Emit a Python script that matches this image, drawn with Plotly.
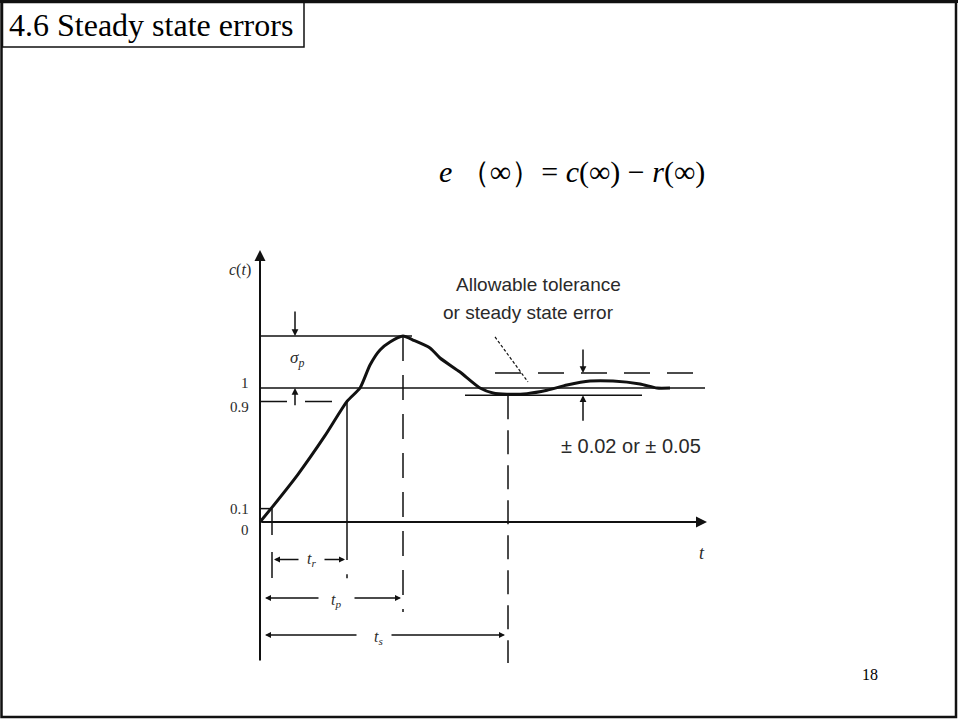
import plotly.graph_objects as go

# Step response c(t) of an underdamped second-order system (schematic)
curve_t = [0.00, 0.11, 0.38, 0.65, 0.87, 1.00, 1.10, 1.20, 1.30, 1.43, 1.53, 1.70,
           1.80, 2.00, 2.20, 2.33, 2.47, 2.67, 2.87, 3.07, 3.30, 3.53, 3.80, 3.97, 4.10]
curve_c = [0.000, 0.100, 0.356, 0.644, 0.900, 1.000, 1.172, 1.284, 1.343, 1.388, 1.358, 1.299,
           1.224, 1.119, 1.000, 0.963, 0.954, 0.958, 0.983, 1.022, 1.052, 1.052, 1.030, 1.000, 1.000]

# Reference levels
c_peak = 1.388
c_final = 1.0
c_90 = 0.9
c_10 = 0.1
band_hi = 1.112
band_lo = 0.946

# Characteristic times
t_10 = 0.12
t_90 = 0.87
t_p = 1.43
t_s = 2.48

tick_text = ["0", "0.1", "0.9", "1"]

W, H = 958, 720
SERIF = "Liberation Serif, Times New Roman, serif"
SANS = "Liberation Sans, Arial, sans-serif"
INK = "#111111"
TXT = "#2a2a2a"

fig = go.Figure()

fig.add_trace(go.Scatter(x=curve_t, y=curve_c, mode="lines",
                         line=dict(color=INK, width=3, shape="spline", smoothing=0.6),
                         hoverinfo="skip", showlegend=False))


def seg(x0, y0, x1, y1, width=1.5, dash="solid"):
    fig.add_shape(type="line", xref="x", yref="y", x0=x0, y0=y0, x1=x1, y1=y1,
                  line=dict(color=INK, width=width, dash=dash))


def arrow(hx, hy, tx, ty, width=1.5, head=2, size=1.0):
    fig.add_annotation(x=hx, y=hy, ax=tx, ay=ty, xref="x", yref="y", axref="x", ayref="y",
                       showarrow=True, arrowhead=head, arrowsize=size, arrowwidth=width,
                       arrowcolor=INK, standoff=0, startstandoff=0, text="")


def label(x, y, text, size=16, font=SERIF, color=TXT, xanchor="center"):
    fig.add_annotation(x=x, y=y, xref="x", yref="y",
                       text=text, showarrow=False, xanchor=xanchor, yanchor="middle",
                       font=dict(family=font, size=size, color=color))


# Axes with arrowheads
arrow(0, 2.03, 0, -1.045, width=2, head=2, size=1.1)
arrow(4.47, 0, 0, 0, width=2, head=2, size=1.1)

# Horizontal reference lines
seg(0, c_peak, 1.52, c_peak)
seg(0, c_final, 4.45, c_final)
seg(0, c_90, 0.72, c_90, dash="27px,18px")
seg(0, c_10, t_10, c_10)
seg(2.35, band_hi, 4.37, band_hi, dash="26px,17px")
seg(2.05, band_lo, 3.82, band_lo)

# Vertical markers
seg(t_10, c_10, t_10, -0.097)
seg(t_10, -0.224, t_10, -0.418)
seg(t_90, c_90, t_90, -0.284)
seg(t_90, -0.39, t_90, -0.42)
seg(t_p, c_peak, t_p, -0.672, dash="25px,14px")
seg(t_s, band_lo, t_s, -1.052, dash="24px,11px")

# Overshoot arrows
arrow(0.35, c_peak, 0.35, 1.582, head=2, size=0.9)
arrow(0.35, c_final, 0.35, 0.86, head=2, size=0.9)

# Tolerance band arrows
arrow(3.23, band_hi, 3.23, 1.299, head=2, size=0.9)
arrow(3.23, band_lo, 3.23, 0.745, head=2, size=0.9)

# Pointer to tolerance band
seg(2.35, 1.381, 2.68, 1.045, width=1.2, dash="3px,2px")

# Time interval brackets
y_tr, y_tp, y_ts = -0.280, -0.567, -0.843
arrow(t_10 + 0.02, y_tr, 0.40, y_tr, head=2, size=0.8)
arrow(t_90 - 0.02, y_tr, 0.63, y_tr, head=2, size=0.8)
arrow(0.05, y_tp, 0.60, y_tp, head=2, size=0.8)
arrow(t_p - 0.02, y_tp, 0.93, y_tp, head=2, size=0.8)
arrow(0.05, y_ts, 0.98, y_ts, head=2, size=0.8)
arrow(t_s - 0.03, y_ts, 1.30, y_ts, head=2, size=0.8)

label(0.51, y_tr, "<i>t</i><sub><i>r</i></sub>", size=16)
label(0.76, y_tp - 0.02, "<i>t</i><sub><i>p</i></sub>", size=16)
label(1.18, y_ts - 0.02, "<i>t</i><sub><i>s</i></sub>", size=16)

# Axis labels and ticks
label(-0.07, 1.88, "<i>c</i>(<i>t</i>)", size=16, xanchor="right")
label(4.42, -0.23, "<i>t</i>", size=18)
tick_y = [-0.06, 0.1, 0.858, 1.04]
for ty, tt in zip(tick_y, tick_text):
    label(-0.09, ty, tt, size=15, xanchor="right")

label(0.37, 1.22, "<i>σ</i><sub><i>p</i></sub>", size=17)

label(2.78, 1.77, "Allowable tolerance", size=19, font=SANS)
label(2.68, 1.56, "or steady state error", size=19, font=SANS)
label(3.71, 0.57, "± 0.02 or ± 0.05", size=20, font=SANS)

# Slide frame, title box, formula and page number
fig.add_shape(type="rect", xref="paper", yref="paper",
              x0=1.5 / W, x1=956 / W, y0=1 - 717 / H, y1=1 - 2 / H,
              line=dict(color="#111111", width=2.5))
fig.add_shape(type="line", xref="paper", yref="paper",
              x0=0, x1=1, y0=1 - 1.5 / H, y1=1 - 1.5 / H,
              line=dict(color="#111111", width=3))
fig.add_shape(type="rect", xref="paper", yref="paper",
              x0=2.5 / W, x1=304 / W, y0=1 - 47 / H, y1=1 - 2 / H,
              line=dict(color="#111111", width=1.5))
fig.add_annotation(x=7 / W, y=1 - 25 / H, xref="paper", yref="paper",
                   text="4.6 Steady state errors", showarrow=False,
                   xanchor="left", yanchor="middle",
                   font=dict(family=SERIF, size=32, color="#000000"))
fig.add_annotation(x=707 / W, y=1 - 172 / H, xref="paper", yref="paper",
                   text="<i>e</i> （∞）= <i>c</i>(∞) − <i>r</i>(∞)", showarrow=False,
                   xanchor="right", yanchor="middle",
                   font=dict(family=SERIF, size=30, color="#000000"))
fig.add_annotation(x=870 / W, y=1 - 674 / H, xref="paper", yref="paper",
                   text="18", showarrow=False, xanchor="center", yanchor="middle",
                   font=dict(family=SERIF, size=16, color="#000000"))

fig.update_layout(
    width=W, height=H, autosize=False,
    margin=dict(l=0, r=0, t=0, b=0),
    paper_bgcolor="white", plot_bgcolor="white",
    xaxis=dict(range=[-2.60, 6.98], visible=False, fixedrange=True),
    yaxis=dict(range=[-1.4776, 3.8955], visible=False, fixedrange=True),
    showlegend=False,
)

fig.write_html("out.html")
